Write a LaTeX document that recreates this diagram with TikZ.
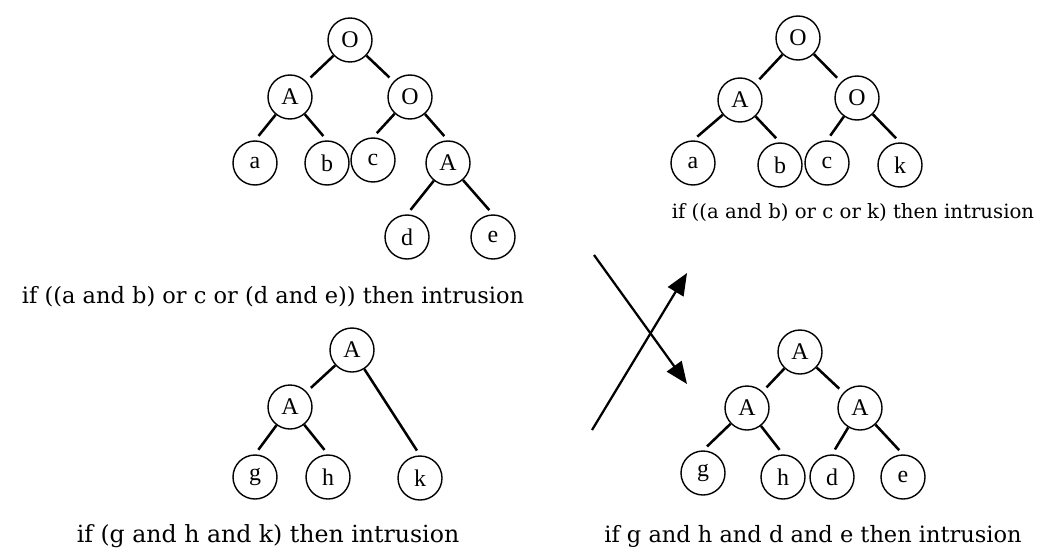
\documentclass[tikz,border=0pt]{standalone}
\usepackage{fontspec}
\setmainfont{DejaVu Serif}
\newfontfamily\gatefont{Liberation Serif}
\usetikzlibrary{arrows.meta}

\begin{document}
\begin{tikzpicture}[
    x=0.25mm, y=-0.25mm,
    gate/.style={circle, draw, line width=1pt, minimum size=11mm, inner sep=0pt, font=\gatefont\fontsize{17}{17}\selectfont},
    edge/.style={line width=1.8pt, shorten >=4pt},
    rule/.style={inner sep=0pt, font=\fontsize{16}{19}\selectfont},
    arrow/.style={-{Triangle[length=5.5mm, width=4.5mm]}, line width=1.6pt}
]
\useasboundingbox (0,0) rectangle (1039,555);
% first tree
\node[gate] (t1or) at (350,40) {O};
\node[gate] (t1and) at (290,97) {A};
\node[gate] (t1or2) at (410,97) {O};
\node[gate] (t1a) at (255,163) {a};
\node[gate] (t1b) at (327,163) {b};
\node[gate] (t1c) at (373,160) {c};
\node[gate] (t1and2) at (448,163) {A};
\node[gate] (t1d) at (407,237) {d};
\node[gate] (t1e) at (493,237) {e};
\draw[edge] (t1or) -- (t1and);
\draw[edge] (t1or) -- (t1or2);
\draw[edge] (t1and) -- (t1a.north);
\draw[edge] (t1and) -- (t1b.north);
\draw[edge] (t1or2) -- (t1c.north);
\draw[edge] (t1or2) -- (t1and2.north);
\draw[edge] (t1and2) -- (t1d.north);
\draw[edge] (t1and2) -- (t1e.north);
\node[rule] (rule1) at (273,297) {if ((a and b) or c or (d and e)) then intrusion};
% second tree
\node[gate] (t2or) at (798,38) {O};
\node[gate] (t2and) at (740,100) {A};
\node[gate] (t2or2) at (857,98) {O};
\node[gate] (t2a) at (693,163) {a};
\node[gate] (t2b) at (780,165) {b};
\node[gate] (t2c) at (827,163) {c};
\node[gate] (t2k) at (900,165) {k};
\draw[edge] (t2or) -- (t2and);
\draw[edge] (t2or) -- (t2or2);
\draw[edge] (t2and) -- (t2a.north);
\draw[edge] (t2and) -- (t2b.north);
\draw[edge] (t2or2) -- (t2c.north);
\draw[edge] (t2or2) -- (t2k.north);
\node[rule, font=\fontsize{14}{17}\selectfont] (rule2) at (853,213) {if ((a and b) or c or k) then intrusion};
% third tree
\node[gate] (t3and) at (352,350) {A};
\node[gate] (t3and2) at (290,407) {A};
\node[gate] (t3g) at (255,477) {g};
\node[gate] (t3h) at (328,477) {h};
\node[gate] (t3k) at (420,478) {k};
\draw[edge] (t3and) -- (t3and2);
\draw[edge] (t3and) -- (t3k.north);
\draw[edge] (t3and2) -- (t3g.north);
\draw[edge] (t3and2) -- (t3h.north);
\node[rule, font=\fontsize{16.8}{19}\selectfont] (rule3) at (268,536) {if (g and h and k) then intrusion};
% fourth tree
\node[gate] (t4and) at (800,352) {A};
\node[gate] (t4and2) at (747,408) {A};
\node[gate] (t4and3) at (860,408) {A};
\node[gate] (t4g) at (703,473) {g};
\node[gate] (t4h) at (783,477) {h};
\node[gate] (t4d) at (832,477) {d};
\node[gate] (t4e) at (903,477) {e};
\draw[edge] (t4and) -- (t4and2);
\draw[edge] (t4and) -- (t4and3);
\draw[edge] (t4and2) -- (t4g.north);
\draw[edge] (t4and2) -- (t4h.north);
\draw[edge] (t4and3) -- (t4d.north);
\draw[edge] (t4and3) -- (t4e.north);
\node[rule] (rule4) at (813,536) {if g and h and d and e then intrusion};
% crossing arrows
\coordinate (x1s) at (594,255);
\coordinate (x1e) at (687,384);
\coordinate (x2s) at (592,430);
\coordinate (x2e) at (687,273);
\draw[arrow] (x1s) -- (x1e);
\draw[arrow] (x2s) -- (x2e);
\end{tikzpicture}
\end{document}
